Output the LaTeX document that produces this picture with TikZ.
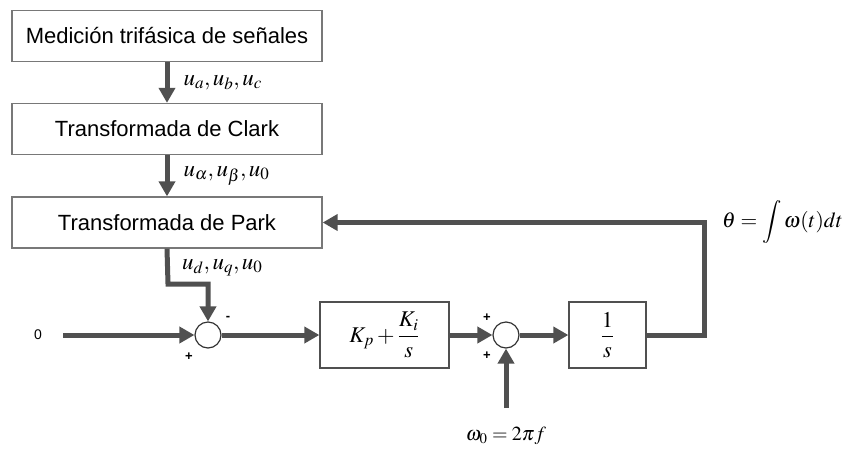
\documentclass[tikz,border=0pt]{standalone}
\usepackage{amsmath}
\usepackage{mathptmx}
\usepackage[no-math]{fontspec}
\setmainfont{Liberation Sans}
\usepackage{tikz}
\usetikzlibrary{arrows.meta, positioning, calc}
\definecolor{dgray}{RGB}{80,80,80}
\definecolor{bgray}{RGB}{120,120,120}
\tikzset{
    stagebox/.style={rectangle, draw=bgray, line width=1.3pt, minimum width=310pt, minimum height=51pt, align=center, font=\fontsize{22}{26}\selectfont},
    ctrlbox/.style={rectangle, draw=dgray, line width=1.3pt, minimum height=66pt, align=center, font=\fontsize{22.5}{26}\selectfont},
    sumnode/.style={circle, draw=black!80, line width=1.2pt, minimum size=26pt, inner sep=0pt},
    sig/.style={-{Triangle[length=15pt, width=16pt]}, line width=5pt, dgray},
}

\begin{document}
\begin{tikzpicture}[
    x=1pt, y=-1pt,
    mlbl/.style={font=\fontsize{23}{26}\selectfont, text=black, anchor=west, inner sep=0pt},
    sgn/.style={font=\fontsize{13}{15}\selectfont\bfseries, inner sep=0pt},
]
\useasboundingbox (0,0) rectangle (848,448);

% Column of transformations
\node[stagebox] (meas) at (167,36) {Medición trifásica de señales};
\node[stagebox] (clark) at (167,129) {Transformada de Clark};
\node[stagebox] (park) at (167,222.5) {Transformada de Park};

% Control loop
\node[sumnode] (sum1) at (208,335) {};
\node[ctrlbox, minimum width=129pt] (picon) at (384.5,335) {$K_p+\dfrac{K_i}{s}$};
\node[sumnode] (sum2) at (506,335) {};
\node[ctrlbox, minimum width=77pt] (integ) at (607.5,335) {$\dfrac{1}{s}$};

\node[font=\fontsize{14}{16}\selectfont] (zero) at (38,335) {0};
\coordinate (in0) at (63,335);
\node[font=\fontsize{20}{24}\selectfont] (wlbl) at (506,436) {$\omega_0=2\pi f$};
\coordinate (win) at (506,408);
\node[mlbl, font=\fontsize{21.5}{25}\selectfont] (thlbl) at (722,222) {$\theta=\displaystyle\int\omega(t)dt$};
\coordinate (pk) at (168,284);
\coordinate (fb) at (704,335);

% Signals
\draw[sig] (meas) -- (clark) node[mlbl, midway, xshift=14pt] {$u_a,u_b,u_c$};
\draw[sig] (clark) -- (park) node[mlbl, midway, xshift=14pt] {$u_\alpha,u_\beta,u_0$};
\draw[sig] (park.south) -- (pk) -| (sum1.north);
\node[mlbl] (udq) at (182,268) {$u_d,u_q,u_0$};
\draw[sig] (in0) -- (sum1.west);
\draw[sig] (sum1.east) -- (picon.west);
\draw[sig] (picon.east) -- (sum2.west);
\draw[sig] (win) -- (sum2.south);
\draw[sig] (sum2.east) -- (integ.west);
\draw[sig] (integ.east) -- (fb) |- (park.east);

% Signs
\node[sgn] (s1m) at (228,318) {-};
\node[sgn] (s1p) at (189,357) {+};
\node[sgn] (s2a) at (487,318) {+};
\node[sgn] (s2b) at (487,356) {+};

\end{tikzpicture}
\end{document}
